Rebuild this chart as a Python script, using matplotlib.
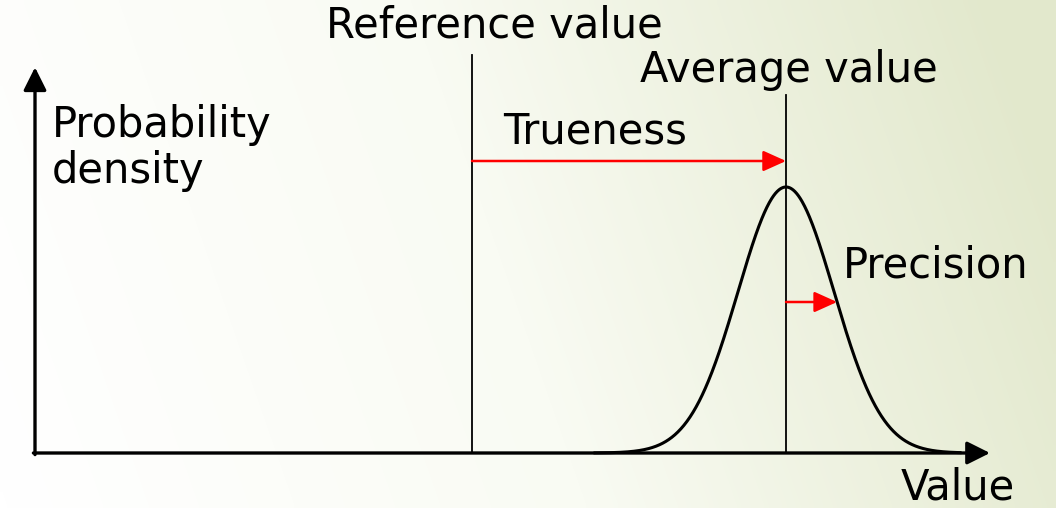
import numpy as np
import matplotlib
matplotlib.use('Agg')
import matplotlib.pyplot as plt
from matplotlib.colors import LinearSegmentedColormap

# chart values (x in "value" units, y as relative density)
reference_value = 4.37
average_value = 7.51
sigma = 0.48
peak_density = 1.0
x_axis_end = 9.55
y_axis_end = 1.45

labels = {
    'reference': 'Reference value',
    'average': 'Average value',
    'trueness': 'Trueness',
    'precision': 'Precision',
    'ylabel': 'Probability\ndensity',
    'xlabel': 'Value',
}

fig = plt.figure(figsize=(10.56, 5.08), dpi=100)
ax = fig.add_axes([0, 0, 1, 1])
xlim = (-0.35, 10.21)
ylim = (-55 / 266, 453 / 266)
ax.set_xlim(*xlim)
ax.set_ylim(*ylim)
ax.axis('off')

# diagonal background gradient, white bottom-left to pale green top-right
bg = LinearSegmentedColormap.from_list('bg', ['#ffffff', '#f9fbf3', '#e2e8cc'])
gx, gy = np.meshgrid(np.linspace(0, 1, 200), np.linspace(0, 1, 100))
grad = np.clip(0.9 * gx + 0.15 * gy, 0, 1)
ax.imshow(grad, cmap=bg, extent=(*xlim, *ylim), origin='lower',
          aspect='auto', zorder=0, interpolation='bilinear')

fs = 30

black_head = dict(arrowstyle='-|>,head_length=1.0,head_width=0.5',
                  lw=2.4, color='black', shrinkA=0, shrinkB=0,
                  mutation_scale=14)
red_head = dict(arrowstyle='-|>,head_length=1.0,head_width=0.45',
                lw=1.8, color='red', shrinkA=0, shrinkB=0,
                mutation_scale=14)

# axes with arrow heads
ax.annotate('', xy=(x_axis_end, 0), xytext=(-0.016, 0), arrowprops=black_head)
ax.annotate('', xy=(0, y_axis_end), xytext=(0, -0.006), arrowprops=black_head)

# gaussian curve
xs = np.linspace(5.6, x_axis_end - 0.3, 600)
ys = peak_density * np.exp(-(xs - average_value) ** 2 / (2 * sigma ** 2))
ax.plot(xs, ys, color='black', lw=2.2, zorder=3)

# vertical marker lines
ax.plot([reference_value, reference_value], [0, 398 / 266], color='black', lw=1.3)
ax.plot([average_value, average_value], [0, 358 / 266], color='black', lw=1.3)

# trueness arrow
true_y = 292 / 266
ax.annotate('', xy=(average_value, true_y), xytext=(reference_value, true_y),
            arrowprops=red_head, zorder=4)

# precision arrow to the curve
prec_y = 151 / 266
prec_x = average_value + sigma * np.sqrt(-2 * np.log(prec_y / peak_density))
ax.annotate('', xy=(prec_x, prec_y), xytext=(average_value, prec_y),
            arrowprops=red_head, zorder=4)

# text labels
ax.text(reference_value + 0.22, 428 / 266, labels['reference'], fontsize=fs,
        ha='center', va='center', family='DejaVu Sans')
ax.text(average_value + 0.03, 383 / 266, labels['average'], fontsize=fs,
        ha='center', va='center', family='DejaVu Sans')
ax.text(reference_value + 0.31, 321 / 266, labels['trueness'], fontsize=fs,
        ha='left', va='center', family='DejaVu Sans')
ax.text(prec_x + 0.06, 187 / 266, labels['precision'], fontsize=fs,
        ha='left', va='center', family='DejaVu Sans')
ax.text(0.17, 305 / 266, labels['ylabel'], fontsize=fs, ha='left',
        va='center', linespacing=1.1, family='DejaVu Sans')
ax.text(9.23, -34 / 266, labels['xlabel'], fontsize=fs, ha='center',
        va='center', family='DejaVu Sans')

fig.savefig('out.png', dpi=100)
